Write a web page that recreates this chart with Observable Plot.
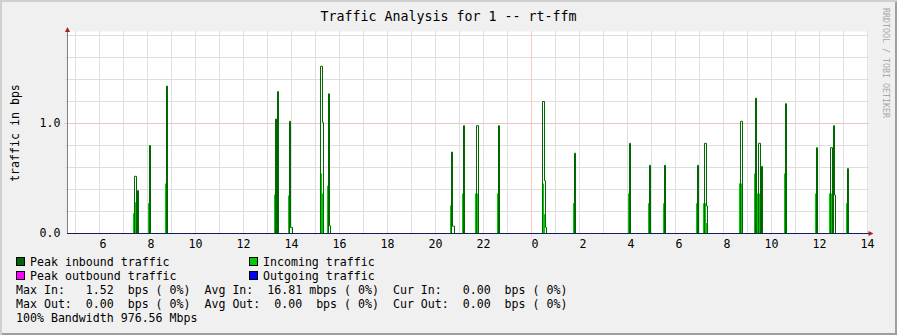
<!DOCTYPE html>
<html><head><meta charset="utf-8">
<script src="https://cdn.jsdelivr.net/npm/d3@7"></script>
<script src="https://cdn.jsdelivr.net/npm/@observablehq/plot@0.6"></script>
<style>
html,body{margin:0;padding:0;background:#fff;}
#chart{position:relative;width:897px;height:335px;background:#f0f0f0;
  box-shadow: inset 2px 2px 0 #cfcfcf, inset -2px -2px 0 #9e9e9e;
  font-family:"DejaVu Sans Mono",monospace;overflow:hidden;color:#000;}
.abs{position:absolute;white-space:pre;line-height:1;}
.sw{position:absolute;width:7px;height:7px;border:1px solid #000;}
</style>
</head><body>
<div id="chart"></div>
<script>
// ---- data (hours since midnight of day 1; values in bps) ----
const title = "Traffic Analysis for 1 -- rt-ffm";
const yLabel = "traffic in bps";
const credit = "RRDTOOL / TOBI OETIKER";
const xStart = 4 + 2/3, xEnd = 38, yTop = 200/110;
const labelHours = [6,8,10,12,14,16,18,20,22,24,26,28,30,32,34,36,38];
const gridHours = d3.range(5, 39);
const gridValues = [0.2,0.4,0.6,0.8,1.2,1.4,1.6,1.8];
const yTickValues = [0, 1];

const peakInbound = [[4.667,0],[7.458,.52],[7.542,0],[7.583,.39],[7.625,0],[8.083,.80],[8.125,0],[8.792,1.34],[8.833,0],
 [13.333,1.04],[13.375,0],[13.417,1.29],[13.458,0],[13.917,1.02],[13.958,.055],[14.042,0],[15.208,1.52],[15.292,1.01],[15.333,0],
 [15.542,1.27],[15.583,.07],[15.625,0],[20.667,.74],[20.708,.066],[20.792,0],[21.167,.98],[21.208,0],[21.708,.98],[21.792,0],
 [22.625,.98],[22.667,0],[24.458,1.20],[24.542,.48],[24.583,.055],[24.625,0],[25.792,.73],[25.833,0],[28.083,.82],[28.125,0],
 [28.917,.62],[28.958,0],[29.542,.62],[29.583,0],[30.917,.62],[30.958,0],[31.208,.82],[31.292,.25],[31.333,0],
 [32.708,1.02],[32.792,0],[33.333,1.23],[33.375,0],[33.458,.82],[33.542,0],[33.583,.61],[33.625,0],[34.583,1.18],[34.625,0],
 [35.875,.78],[35.917,0],[36.458,.78],[36.542,0],[36.583,.98],[36.625,.35],[36.667,0],[37.167,.59],[37.208,0],[38,0]];

const incoming = [[4.667,0],[7.417,.18],[7.5,.28],[7.583,0],[8.042,.27],[8.125,0],[8.75,.45],[8.833,0],
 [13.292,.35],[13.375,.45],[13.458,0],[13.875,.34],[13.958,0],[15.208,.54],[15.292,.36],[15.333,0],[15.5,.43],[15.583,0],
 [20.625,.25],[20.708,0],[21.125,.36],[21.208,0],[21.667,.36],[21.792,0],[22.583,.36],[22.667,0],
 [24.458,.45],[24.542,.17],[24.583,0],[25.75,.27],[25.833,0],[28.042,.36],[28.125,0],[28.875,.27],[28.958,0],
 [29.5,.27],[29.583,0],[30.875,.27],[30.958,0],[31.167,.27],[31.292,.09],[31.333,0],[32.667,.45],[32.792,0],
 [33.292,.54],[33.375,0],[33.417,.36],[33.542,.27],[33.625,0],[34.542,.54],[34.625,0],[35.833,.36],[35.917,0],
 [36.417,.36],[36.542,.12],[36.625,0],[37.125,.27],[37.208,0],[38,0]];

const legendLabels = ["Peak inbound traffic","Incoming traffic","Peak outbound traffic","Outgoing traffic"];
const legendColors = ["#006600","#00cc00","#ff00ff","#0000ff"];
const statLines = [
  "Max In:   1.52  bps ( 0%)  Avg In:  16.81 mbps ( 0%)  Cur In:   0.00  bps ( 0%)",
  "Max Out:  0.00  bps ( 0%)  Avg Out:  0.00  bps ( 0%)  Cur Out:  0.00  bps ( 0%)",
  "100% Bandwidth 976.56 Mbps"
];

// ---- drawing ----
const chart = document.getElementById("chart");
function addDiv(cls, text, css) {
  const d = document.createElement("div");
  d.className = cls; if (text != null) d.textContent = text;
  Object.assign(d.style, css); chart.appendChild(d); return d;
}

addDiv("abs", title, {left:"0px", width:"897px", top:"10px", textAlign:"center", fontSize:"13.3px"});
addDiv("abs", credit, {left:"882px", top:"8px", writingMode:"vertical-rl", fontSize:"8.3px", color:"#a8a8a8"});
addDiv("abs", yLabel, {left:"16px", top:"133px", transform:"translate(-50%,-50%) rotate(-90deg)", fontSize:"11.6px"});

const arrowUp = {draw(ctx){ ctx.moveTo(0,-4.5); ctx.lineTo(2.5,0.5); ctx.lineTo(-2.5,0.5); ctx.closePath(); }};
const arrowRight = {draw(ctx){ ctx.moveTo(1,-2.5); ctx.lineTo(6,0); ctx.lineTo(1,2.5); ctx.closePath(); }};

const svg = Plot.plot({
  width: 897, height: 231,
  marginLeft: 67, marginRight: 30, marginTop: 9, marginBottom: 22,
  style: {background:"transparent", fontFamily:"DejaVu Sans Mono", fontSize:"11.6px", color:"#000", overflow:"visible"},
  x: {domain:[xStart, xEnd], ticks: labelHours, tickFormat: h => String(h % 24).padStart(2, "\u00a0"),
      tickSize: 0, tickPadding: 6, label: null},
  y: {domain:[0, yTop], ticks: yTickValues, tickFormat: d3.format(".1f"), tickSize: 0, tickPadding: 7, label: null},
  marks: [
    Plot.frame({fill:"white", stroke:"none", insetTop:-2, insetRight:-1}),
    Plot.ruleX(gridHours.filter(h => h % 24 !== 0), {stroke:"#dedede", insetTop:-2, insetBottom:-2}),
    Plot.ruleY(gridValues, {stroke:"#dedede", insetLeft:-2, insetRight:-2}),
    Plot.ruleY([1], {stroke:"#e6c6c6", insetLeft:-3, insetRight:-2}),
    Plot.ruleX([24], {stroke:"#ffc4c4", insetTop:-2, insetBottom:-4}),
    Plot.areaY(incoming, {x: d => d[0], y: d => d[1], curve:"step-after", fill:"#00cc00"}),
    Plot.line(peakInbound, {x: d => d[0], y: d => d[1], curve:"step-after", stroke:"#006600", strokeWidth:1}),
    Plot.ruleX([xStart], {stroke:"#808080", insetTop:-3}),
    Plot.ruleY([0], {stroke:"#1a1a60", insetRight:-3}),
    Plot.dot([[xStart, yTop]], {x: d => d[0], y: d => d[1], symbol: arrowUp, fill:"#a82020", stroke:"none", dy:-2}),
    Plot.dot([[xEnd, 0]], {x: d => d[0], y: d => d[1], symbol: arrowRight, fill:"#a82020", stroke:"none"})
  ]
});
svg.style.position = "absolute"; svg.style.left = "0px"; svg.style.top = "24px";
chart.appendChild(svg);

// legend
const rowCenters = [261.5, 275.5, 289.7, 303.8, 317.9];
legendLabels.forEach((lab, i) => {
  const col = i % 2, row = Math.floor(i / 2);
  const sx = col === 0 ? 16 : 249;
  const cy = rowCenters[row];
  addDiv("sw", null, {left: sx + "px", top: (cy - 4.5) + "px", background: legendColors[i]});
  addDiv("abs", lab, {left: (sx + 14) + "px", top: (cy - 6) + "px", fontSize:"11.6px", lineHeight:"12px"});
});
statLines.forEach((t, i) => {
  addDiv("abs", t, {left:"16px", top: (rowCenters[i + 2] - 6) + "px", fontSize:"11.6px", lineHeight:"12px"});
});
</script>
</body></html>
